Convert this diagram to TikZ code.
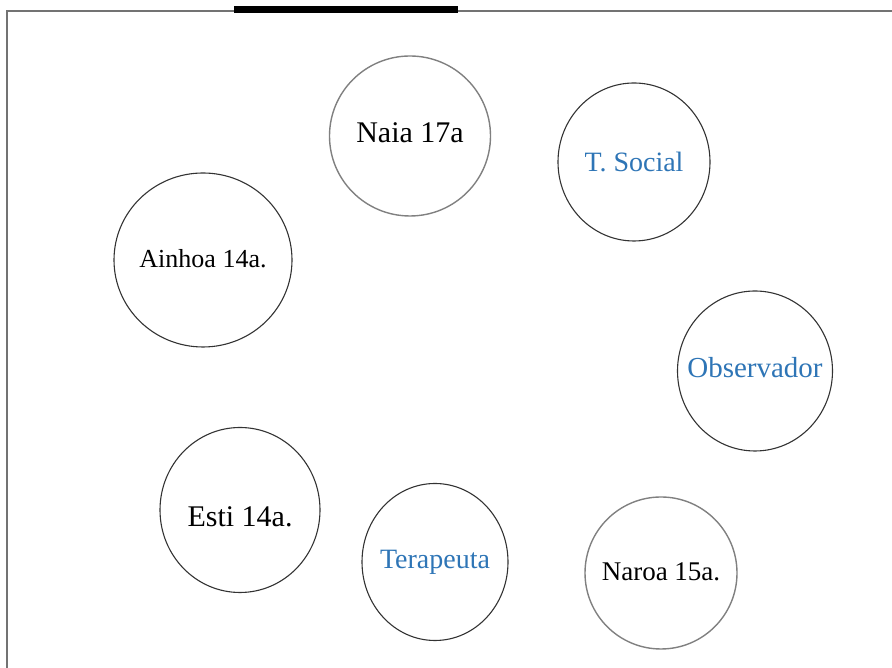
\documentclass[tikz,border=0pt]{standalone}
\usepackage{xcolor}
\usepackage{fontspec}
\setmainfont{Liberation Serif}
\usepackage{tikz}
\usetikzlibrary{shapes.geometric}

\definecolor{roleblue}{RGB}{46,117,182}

\begin{document}
\begin{tikzpicture}[
    x=1pt, y=1pt,
    % Circle Styles
    person/.style={ellipse, draw=black!80, line width=1.1pt, inner sep=0pt},
    soft/.style={person, draw=black!50, line width=1.4pt},
    % Text Styles
    kidtext/.style={text=black, inner sep=0pt},
    roletext/.style={text=roleblue, inner sep=0pt},
    % Frame Styles
    frame/.style={draw=black!55, line width=1.2pt}
]
    \useasboundingbox (0,0) rectangle (892,668);

    % Page frame
    \draw [frame] (7,0) -- (7,657) -- (892,657);
    \fill [black] (234,655) rectangle (458,662);

    % Nodes (text kept apart so it does not stretch the circles)
    \node [soft, minimum width=161, minimum height=160,
        label={[kidtext, yshift=3pt, font=\fontsize{30}{36}\selectfont]center:Naia 17a}] (naia) at (410,532) {};
    \node [person, minimum width=152, minimum height=158,
        label={[roletext, font=\fontsize{28}{34}\selectfont]center:T. Social}] (tsocial) at (634,506) {};
    \node [person, minimum width=178, minimum height=174,
        label={[kidtext, yshift=1pt, font=\fontsize{26}{31}\selectfont]center:Ainhoa 14a.}] (ainhoa) at (203,408) {};
    \node [person, minimum width=155, minimum height=160,
        label={[roletext, yshift=3pt, font=\fontsize{29}{35}\selectfont]center:Observador}] (observador) at (755,297) {};
    \node [person, minimum width=160, minimum height=165,
        label={[kidtext, yshift=-7pt, font=\fontsize{30}{36}\selectfont]center:Esti 14a.}] (esti) at (240,158) {};
    \node [person, minimum width=146, minimum height=157,
        label={[roletext, font=\fontsize{28}{34}\selectfont]center:Terapeuta}] (terapeuta) at (435,106) {};
    \node [soft, minimum width=152, minimum height=152,
        label={[kidtext, yshift=1pt, font=\fontsize{27}{32}\selectfont]center:Naroa 15a.}] (naroa) at (661,95) {};

\end{tikzpicture}
\end{document}
